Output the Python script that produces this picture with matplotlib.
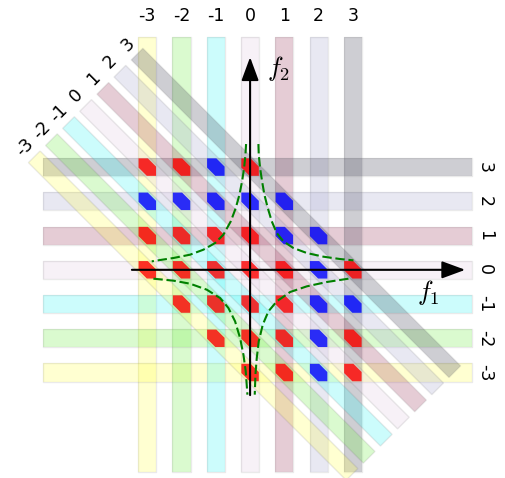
import numpy as np
import matplotlib.pyplot as plt
from matplotlib.patches import Polygon, Rectangle

plt.rcParams['mathtext.fontset'] = 'cm'

# band levels and their colours (f1, f2 and f1+f2 share the same palette)
levels = [-3, -2, -1, 0, 1, 2, 3]
level_colors = ['#ffff4b', '#6fef43', '#37f7f7', '#e3cbe3',
                '#9b375b', '#a7a7cf', '#3f3f53']

# marked intersections (f1, f2)
red_f1 = [-3, -2, 0,
          -3, -2, -1, 0,
          -3, -2, -1, 0, 1, 3,
          -2, -1, 0, 1,
          -1, 0, 1, 3,
          0, 1, 3]
red_f2 = [3, 3, 3,
          1, 1, 1, 1,
          0, 0, 0, 0, 0, 0,
          -1, -1, -1, -1,
          -2, -2, -2, -2,
          -3, -3, -3]
blue_f1 = [-1, -3, -2, -1, 0, 1, 1, 2, 2, 2, 3, 2, 2]
blue_f2 = [3, 2, 2, 2, 2, 2, 1, 1, 0, -1, -1, -2, -3]

# green dashed curves
ur_f1 = [0.243, 0.253, 0.292, 0.350, 0.418, 0.516, 0.633, 0.779, 0.973,
         1.265, 1.655, 2.141, 2.628, 3.017]
ur_f2 = [3.673, 3.361, 2.973, 2.583, 2.194, 1.805, 1.415, 1.074, 0.831,
         0.636, 0.491, 0.383, 0.315, 0.276]
ul_f1 = [-0.117, -0.136, -0.175, -0.234, -0.311, -0.418, -0.564, -0.779,
         -1.022, -1.363, -1.752, -2.238, -2.628, -2.871]
ul_f2 = [3.673, 3.361, 2.973, 2.583, 2.194, 1.805, 1.415, 1.026,
         0.782, 0.588, 0.442, 0.345, 0.286, 0.247]
ll_f1 = [-2.822, -2.238, -1.752, -1.265, -0.876, -0.633, -0.438, -0.292,
         -0.195, -0.127, -0.078]
ll_f2 = [-0.259, -0.317, -0.405, -0.580, -0.823, -1.115, -1.505, -1.992,
         -2.478, -2.965, -3.646]
lr_f1 = [2.871, 2.238, 1.655, 1.168, 0.779, 0.535, 0.370, 0.253, 0.195,
         0.156, 0.136]
lr_f2 = [-0.259, -0.356, -0.483, -0.648, -0.921, -1.213, -1.602, -2.088,
         -2.575, -3.061, -3.646]

BAND_W = 0.53
DIAG_W = 0.48
EDGE = (0.45, 0.45, 0.45, 0.15)


def diag_band(c, d0, d1, w):
    # rectangle along f1 + f2 = c, from f1 - f2 = d0 to d1
    o = w / 2 / np.sqrt(2)
    p0 = np.array([(c + d0) / 2, (c - d0) / 2])
    p1 = np.array([(c + d1) / 2, (c - d1) / 2])
    n = np.array([o, o])
    return [p0 + n, p1 + n, p1 - n, p0 - n]


def hexagon(x, y, h=0.255, s=0.27):
    return [(x - h, y + h), (x + s - h, y + h), (x + h, y + s - h),
            (x + h, y - h), (x - s + h, y - h), (x - h, y - s + h)]


fig = plt.figure(figsize=(5.06, 4.78), dpi=100)
ax = fig.add_axes([0, 0, 1, 1])
ax.set_xlim(-7.30, 7.47)
ax.set_ylim(-6.08, 7.88)
ax.axis('off')

for v, col in zip(levels, level_colors):
    ax.add_patch(Rectangle((v - BAND_W / 2, -5.90), BAND_W, 12.70,
                           facecolor=col, alpha=0.25, edgecolor='none', zorder=1))
    ax.add_patch(Rectangle((v - BAND_W / 2, -5.90), BAND_W, 12.70,
                           facecolor='none', edgecolor=EDGE, lw=1, zorder=1))
    ax.add_patch(Rectangle((-6.04, v - BAND_W / 2), 12.52, BAND_W,
                           facecolor=col, alpha=0.25, edgecolor='none', zorder=1))
    ax.add_patch(Rectangle((-6.04, v - BAND_W / 2), 12.52, BAND_W,
                           facecolor='none', edgecolor=EDGE, lw=1, zorder=1))
    pts = diag_band(v, -9.6, 8.95, DIAG_W)
    ax.add_patch(Polygon(pts, closed=True, facecolor=col, alpha=0.25,
                         edgecolor='none', zorder=2))
    ax.add_patch(Polygon(pts, closed=True, facecolor='none',
                         edgecolor=EDGE, lw=1, zorder=2))

    # labels
    ax.text(v, 7.41, str(v), ha='center', va='center', fontsize=12.5)
    ax.text(6.86, v, str(v), ha='center', va='center', fontsize=12.5,
            rotation=-90)
    d = -10.15
    ax.text((v + d) / 2, (v - d) / 2, str(v), ha='center', va='center',
            fontsize=12.5, rotation=45, rotation_mode='anchor')

for x, y in zip(red_f1, red_f2):
    ax.add_patch(Polygon(hexagon(x, y), closed=True, facecolor='red',
                         alpha=0.8, edgecolor='none', zorder=3))
for x, y in zip(blue_f1, blue_f2):
    ax.add_patch(Polygon(hexagon(x, y), closed=True, facecolor='blue',
                         alpha=0.8, edgecolor='none', zorder=3))

# axes with arrow heads
arrow = dict(arrowstyle='-|>,head_length=0.65,head_width=0.24', lw=1.5,
             color='black', mutation_scale=22, shrinkA=0, shrinkB=0)
ax.annotate('', xy=(6.28, 0), xytext=(-3.45, 0), arrowprops=arrow, zorder=5)
ax.annotate('', xy=(0, 6.21), xytext=(0, -3.66), arrowprops=arrow, zorder=5)
ax.text(5.19, -0.67, r'$f_1$', fontsize=19, ha='center', va='center', zorder=6)
ax.text(0.83, 5.89, r'$f_2$', fontsize=19, ha='center', va='center', zorder=6)

for xs, ys in [(ur_f1, ur_f2), (ul_f1, ul_f2), (ll_f1, ll_f2), (lr_f1, lr_f2)]:
    ax.plot(xs, ys, color='green', lw=1.5, dashes=(4.5, 1.8), zorder=4)

fig.savefig('out.png', dpi=100)
